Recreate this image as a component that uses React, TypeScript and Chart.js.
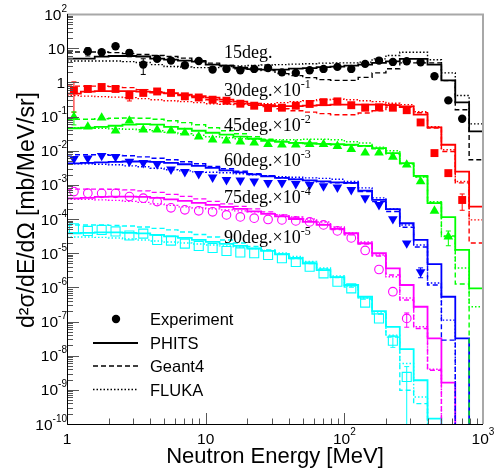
import React, { useEffect, useRef } from "react";
import { Chart, registerables } from "chart.js";

Chart.register(...registerables);

// ---------------- data ----------------
const binEdges = [1, 1.259, 1.585, 1.995, 2.512, 3.162, 3.981, 5.012, 6.31, 7.943, 10, 12.59, 15.85, 19.95, 25.12, 31.62, 39.81, 50.12, 63.1, 79.43, 100, 125.9, 158.5, 199.5, 251.2, 316.2, 398.1, 501.2, 631, 794.3, 1000];
const binCenters = [1.122, 1.413, 1.778, 2.239, 2.818, 3.548, 4.467, 5.623, 7.079, 8.913, 11.22, 14.13, 17.78, 22.39, 28.18, 35.48, 44.67, 56.23, 70.79, 89.13, 112.2, 141.3, 177.8, 223.9, 281.8, 354.8, 446.7, 562.3, 707.9, 891.3];

// 15 deg (x1)
const phits15 = [4.95, 4.95, 5.67, 5.9, 5.9, 5.7, 4.95, 4.6, 4.3, 4.05, 3.3, 3.1, 2.7, 2.44, 2.36, 2.36, 2.52, 2.6, 2.8, 2.9, 3.1, 3.3, 3.7, 4.1, 4.85, 4.85, 3.3, 1.14, 0.26, 0.0365];
const geant15 = [7.7, 7.7, 7.7, 7.4, 6.9, 6.5, 6.1, 5.7, 5.1, 4.3, 3.65, 3.1, 2.5, 2.36, 2.2, 1.8, 1.57, 1.37, 1.2, 1.14, 1.14, 1.4, 1.89, 2.5, 3.7, 3.7, 3.7, 1.12, 0.158, 0.0054];
const fluka15 = [4.2, 4.2, 4.2, 4.2, 4.05, 3.8, 3.3, 2.9, 2.8, 2.7, 2.7, 2.9, 3.0, 3.1, 3.2, 3.3, 3.4, 3.5, 3.65, 3.7, 3.7, 3.9, 4.85, 6.1, 7.6, 7.6, 4.6, 1.89, 0.41, 0.061];
const exp15 = [null, 8.1, 7.6, 11.4, 7.3, 3.3, 4.85, 4.33, 3.15, 4.2, 2.36, 2.47, 2.25, 2.47, 2.64, 1.96, 1.89, 2.25, 2.47, 2.83, 2.47, 3.47, 4.33, 3.96, 4.13, 3.86, 1.5, 0.296, 0.086, null];
const err15 = [0, 2.2, 0, 0, 1.7, 1.6, 0, 0, 0, 0, 0, 0, 0, 0, 0, 0, 0, 0, 0, 0, 0, 0, 0, 0, 0, 0, 0, 0, 0, 0];

// 30 deg (x1e-1, values as plotted)
const phits30 = [0.466, 0.534, 0.553, 0.553, 0.553, 0.534, 0.498, 0.482, 0.436, 0.394, 0.356, 0.31, 0.272, 0.237, 0.214, 0.2, 0.2, 0.207, 0.214, 0.222, 0.222, 0.222, 0.222, 0.214, 0.198, 0.113, 0.0479, 0.0149, 0.00245, 0.000231];
const geant30 = [0.773, 0.773, 0.773, 0.75, 0.7, 0.61, 0.534, 0.466, 0.408, 0.356, 0.31, 0.272, 0.237, 0.214, 0.194, 0.169, 0.148, 0.134, 0.121, 0.113, 0.113, 0.127, 0.148, 0.19, 0.187, 0.129, 0.046, 0.0095, 0.00114, 0.0000199];
const fluka30 = [0.408, 0.394, 0.381, 0.368, 0.356, 0.333, 0.31, 0.29, 0.272, 0.254, 0.237, 0.229, 0.222, 0.222, 0.237, 0.254, 0.272, 0.29, 0.31, 0.321, 0.31, 0.29, 0.272, 0.245, 0.222, 0.138, 0.05, 0.0106, 0.00125, 0.000094];
const exp30 = [0.583, 0.64, 0.73, 0.64, 0.415, 0.49, 0.54, 0.49, 0.39, 0.36, 0.31, 0.29, 0.237, 0.207, 0.178, 0.181, 0.207, 0.233, 0.263, 0.277, 0.214, 0.181, 0.185, 0.181, 0.153, 0.067, 0.0085, 0.0022, 0.00036, null];
const err30 = [0.45, 0, 0, 0, 0.13, 0, 0, 0, 0, 0, 0, 0, 0, 0, 0, 0, 0, 0, 0, 0, 0, 0, 0, 0, 0, 0, 0, 0, 0.00018, 0];

// 45 deg (x1e-2)
const phits45 = [0.0453, 0.0469, 0.05, 0.0537, 0.0575, 0.0595, 0.0575, 0.05, 0.0438, 0.0383, 0.0335, 0.0293, 0.0256, 0.0223, 0.0195, 0.0182, 0.017, 0.0165, 0.0159, 0.0154, 0.0149, 0.0139, 0.0119, 0.0085, 0.00433, 0.00184, 2.9e-4, 1.13e-4, 1.24e-5, 9.36e-7];
const geant45 = [0.0833, 0.0833, 0.086, 0.089, 0.0905, 0.089, 0.0833, 0.075, 0.066, 0.0575, 0.0469, 0.0383, 0.0313, 0.0256, 0.0216, 0.0189, 0.017, 0.0159, 0.0154, 0.0149, 0.0144, 0.0135, 0.0114, 0.0081, 0.00413, 0.00172, 3.03e-4, 3.19e-5, 1.25e-6, 0];
const fluka45 = [0.0469, 0.0469, 0.0453, 0.0438, 0.0424, 0.041, 0.0383, 0.0346, 0.0313, 0.0283, 0.0256, 0.0239, 0.0223, 0.0216, 0.0209, 0.0209, 0.0209, 0.0216, 0.0216, 0.0209, 0.0182, 0.0167, 0.0127, 0.0099, 0.00413, 0.00168, 3.23e-4, 3.05e-5, 3.68e-6, 2.7e-7];
const exp45 = [0.0967, 0.05, 0.092, 0.0383, 0.075, 0.041, 0.041, 0.0383, 0.0335, 0.0256, 0.0209, 0.0195, 0.0182, 0.017, 0.0154, 0.0149, 0.0149, 0.0154, 0.0154, 0.0135, 0.011, 0.00866, 0.00866, 0.0066, 0.00386, 0.00125, 1.73e-4, 3.05e-5, null, null];
const err45 = [0.04, 0, 0, 0, 0, 0, 0, 0, 0, 0, 0, 0, 0, 0, 0, 0, 0, 0, 0, 0, 0, 0, 0, 0, 0, 0, 0, 1.4e-5, 0, 0];

// 60 deg (x1e-3)
const phits60 = [0.00427, 0.00442, 0.00457, 0.00473, 0.00482, 0.00482, 0.00473, 0.00442, 0.004, 0.0036, 0.00315, 0.00266, 0.00233, 0.00203, 0.00178, 0.0016, 0.00145, 0.00135, 0.00127, 0.00118, 0.00114, 6.8e-4, 3.63e-4, 1.94e-4, 7.5e-5, 2.44e-5, 4.8e-6, 5.3e-7, 3.2e-8, 0];
const geant60 = [0.0076, 0.0076, 0.0076, 0.00733, 0.0071, 0.0066, 0.006, 0.0054, 0.00473, 0.00413, 0.00348, 0.00295, 0.00249, 0.0021, 0.00184, 0.0016, 0.00145, 0.00131, 0.00122, 0.00114, 0.0011, 6.35e-4, 3.23e-4, 1.65e-4, 5.75e-5, 1.52e-5, 1.17e-6, 2.85e-8, 0, 0];
const fluka60 = [0.00413, 0.00413, 0.004, 0.00386, 0.0036, 0.00337, 0.00305, 0.00275, 0.00257, 0.0024, 0.00233, 0.00225, 0.0021, 0.00196, 0.00184, 0.00172, 0.00166, 0.0016, 0.00155, 0.00145, 0.00125, 8.17e-4, 4.15e-4, 1.98e-4, 6.7e-5, 1.74e-5, 1.34e-6, 1.1e-7, 0, 0];
const exp60 = [0.0058, 0.006, 0.0071, 0.0066, 0.00482, 0.00442, 0.004, 0.00285, 0.0024, 0.0021, 0.00166, 0.0014, 0.00135, 0.00127, 0.00114, 0.00114, 0.00107, 0.001, 9.16e-4, 8.4e-4, 7.14e-4, 4.08e-4, 2.59e-4, 1.0e-4, 1.95e-5, 2.81e-6, null, null, null, null];
const err60 = [0, 0, 0, 0, 0, 0, 0, 0, 0, 0, 0, 0, 0, 0, 0, 0, 0, 0, 0, 0, 0, 0, 0, 0, 0, 9e-7, 0, 0, 0, 0];

// 75 deg (x1e-4)
const phits75 = [4.02e-4, 4.15e-4, 4.44e-4, 4.53e-4, 4.53e-4, 4.44e-4, 4.15e-4, 3.76e-4, 3.39e-4, 2.96e-4, 2.59e-4, 2.26e-4, 1.98e-4, 1.67e-4, 1.41e-4, 1.19e-4, 1.0e-4, 8.2e-5, 6.7e-5, 5.12e-5, 3.83e-5, 1.95e-5, 9.93e-6, 3.6e-6, 1.17e-6, 2.7e-7, 3.2e-8, 1.62e-9, 0, 0];
const geant75 = [7.5e-4, 7.5e-4, 7.5e-4, 7.4e-4, 7.14e-4, 6.67e-4, 6.0e-4, 5.26e-4, 4.6e-4, 3.89e-4, 3.28e-4, 2.77e-4, 2.34e-4, 1.98e-4, 1.62e-4, 1.32e-4, 1.08e-4, 8.8e-5, 6.9e-5, 4.95e-5, 3.42e-5, 1.86e-5, 8.26e-6, 2.29e-6, 4.24e-7, 6.27e-8, 3.76e-9, 0, 0, 0];
const fluka75 = [3.76e-4, 3.76e-4, 3.63e-4, 3.51e-4, 3.28e-4, 3.07e-4, 2.77e-4, 2.5e-4, 2.26e-4, 2.12e-4, 1.98e-4, 1.85e-4, 1.73e-4, 1.62e-4, 1.46e-4, 1.32e-4, 1.15e-4, 1.0e-4, 8.2e-5, 5.86e-5, 3.91e-5, 2.13e-5, 8.85e-6, 2.04e-6, 4.86e-7, 7.0e-8, 4.02e-9, 0, 0, 0];
const exp75 = [6.35e-4, 5.7e-4, 5.63e-4, 5.63e-4, 4.53e-4, 4.08e-4, 3.23e-4, 2.12e-4, 1.85e-4, 1.73e-4, 1.62e-4, 1.32e-4, 1.15e-4, 1.06e-4, 9.7e-5, 9.4e-5, 8.8e-5, 8.2e-5, 6.7e-5, 4.48e-5, 2.79e-5, 1.2e-5, 3.33e-6, 7.44e-7, 1.23e-7, null, null, null, null, null];
const err75 = [0, 0, 0, 0, 0, 0, 0, 0, 0, 0, 0, 0, 0, 0, 0, 0, 0, 0, 0, 0, 0, 0, 0, 0, 5.5e-8, 0, 0, 0, 0, 0];

// 90 deg (x1e-5)
const phits90 = [3.83e-5, 3.91e-5, 4.05e-5, 4.05e-5, 3.91e-5, 3.78e-5, 3.42e-5, 3.09e-5, 2.79e-5, 2.44e-5, 2.13e-5, 1.86e-5, 1.63e-5, 1.37e-5, 1.16e-5, 9.16e-6, 7.1e-6, 5.06e-6, 3.21e-6, 2.0e-6, 1.17e-6, 5.3e-7, 2.02e-7, 7.0e-8, 1.55e-8, 1.91e-9, 1.44e-10, 0, 0, 0];
const geant90 = [6.7e-5, 6.7e-5, 6.7e-5, 6.49e-5, 6.27e-5, 5.86e-5, 5.3e-5, 4.79e-5, 4.18e-5, 3.53e-5, 2.98e-5, 2.44e-5, 1.99e-5, 1.57e-5, 1.24e-5, 9.45e-6, 7.0e-6, 4.98e-6, 3.21e-6, 1.94e-6, 1.02e-6, 4.53e-7, 1.65e-7, 3.48e-8, 9.7e-10, 3.96e-10, 0, 0, 0, 0];
const fluka90 = [2.98e-5, 2.98e-5, 2.89e-5, 2.79e-5, 2.61e-5, 2.44e-5, 2.28e-5, 2.13e-5, 1.99e-5, 1.86e-5, 1.74e-5, 1.63e-5, 1.52e-5, 1.37e-5, 1.2e-5, 1.01e-5, 8.0e-6, 5.7e-6, 3.68e-6, 2.14e-6, 1.09e-6, 4.86e-7, 1.89e-7, 4.0e-8, 5.9e-9, 6.2e-10, 0, 0, 0, 0];
const exp90 = [5.37e-5, 4.48e-5, 4.79e-5, 4.33e-5, 3.3e-5, 3.73e-5, 2.44e-5, 2.33e-5, 1.9e-5, 1.63e-5, 1.42e-5, 1.16e-5, 1.05e-5, 9.93e-6, 8.85e-6, 7.1e-6, 5.53e-6, 4.02e-6, 2.57e-6, 1.46e-6, 9.36e-7, 3.58e-7, 1.23e-7, 2.75e-8, 2.39e-9, null, null, null, null, null];
const err90 = [0, 0, 0, 0, 0, 0, 0, 0, 0, 0, 0, 0, 0, 0, 0, 0, 0, 0, 0, 0, 0, 0, 0, 1.0e-8, 2.4e-9, 0, 0, 0, 0, 0];

const angleNames = ["15deg.", "30deg.", "45deg.", "60deg.", "75deg.", "90deg."];
const angleScaleSup = ["", "-1", "-2", "-3", "-4", "-5"];
const angleColors = ["#000000", "#ff0000", "#00ff00", "#0000ff", "#ff00ff", "#00ffff"];

const yTickValues = [1e2, 1e1, 1, 1e-1, 1e-2, 1e-3, 1e-4, 1e-5, 1e-6, 1e-7, 1e-8, 1e-9, 1e-10];
const yTickBase = ["10", "10", "1", "10", "10", "10", "10", "10", "10", "10", "10", "10", "10"];
const yTickSup = ["2", "", "", "-1", "-2", "-3", "-4", "-5", "-6", "-7", "-8", "-9", "-10"];
const xTickValues = [1, 10, 100, 1000];
const xTickBase = ["1", "10", "10", "10"];
const xTickSup = ["", "", "2", "3"];

const legendLabels = ["Experiment", "PHITS", "Geant4", "FLUKA"];
const xTitle = "Neutron Energy [MeV]";
const yTitle = "d\u00b2\u03c3/dE/d\u03a9 [mb/MeV/sr]";

// ---------------- styling ----------------
const SANS = '"Liberation Sans", Arial, Helvetica, sans-serif';
const SERIF = '"Liberation Serif", "Times New Roman", Times, serif';
const FLOOR = 1e-14;
const markerStyles = ["circle", "rect", "triangle", "triangle", "circle", "rect"];
const markerRot = [0, 0, 0, 180, 0, 0];
const markerRadius = [4.2, 5.6, 5.6, 5.6, 4.3, 6.4];
const markerFilled = [true, true, true, true, false, false];
const GEANT_DASH = [5, 3];
const FLUKA_DASH = [1.5, 2];

const phitsSets = [phits15, phits30, phits45, phits60, phits75, phits90];
const geantSets = [geant15, geant30, geant45, geant60, geant75, geant90];
const flukaSets = [fluka15, fluka30, fluka45, fluka60, fluka75, fluka90];
const expSets = [exp15, exp30, exp45, exp60, exp75, exp90];
const errSets = [err15, err30, err45, err60, err75, err90];

function histPoints(vals: number[]) {
  return binEdges.map((e, i) => {
    const v = vals[Math.min(i, vals.length - 1)];
    return { x: e, y: v > 0 ? v : FLOOR };
  });
}

function expPoints(vals: (number | null)[]) {
  const pts: { x: number; y: number }[] = [];
  vals.forEach((v, i) => {
    if (v != null) pts.push({ x: binCenters[i], y: v });
  });
  return pts;
}

function drawSup(ctx: CanvasRenderingContext2D, base: string, sup: string, x: number, y: number, align: string, baseSize: number, supSize: number, raise: number) {
  ctx.font = `${baseSize}px ${SANS}`;
  const bw = ctx.measureText(base).width;
  ctx.font = `${supSize}px ${SANS}`;
  const sw = sup ? ctx.measureText(sup).width : 0;
  let x0 = x;
  if (align === "right") x0 = x - bw - sw;
  else if (align === "center") x0 = x - (bw + sw) / 2;
  ctx.textAlign = "left";
  ctx.textBaseline = "alphabetic";
  ctx.font = `${baseSize}px ${SANS}`;
  ctx.fillText(base, x0, y);
  if (sup) {
    ctx.font = `${supSize}px ${SANS}`;
    ctx.fillText(sup, x0 + bw, y - raise);
  }
}

const decorPlugin = {
  id: "decor",
  beforeDatasetsDraw(chart: any) {
    const { ctx, chartArea: a, scales } = chart;
    ctx.save();
    ctx.beginPath();
    ctx.rect(a.left, a.top, a.right - a.left, a.bottom - a.top);
    ctx.clip();
    expSets.forEach((vals, s) => {
      ctx.strokeStyle = angleColors[s];
      ctx.lineWidth = 1;
      vals.forEach((v, i) => {
        const e = errSets[s][i];
        if (v == null || !e) return;
        const x = scales.x.getPixelForValue(binCenters[i]);
        const yt = scales.y.getPixelForValue(v + e);
        const low = v - e;
        const yb = low > 0 ? scales.y.getPixelForValue(low) : a.bottom;
        ctx.beginPath();
        ctx.moveTo(x, yt);
        ctx.lineTo(x, yb);
        ctx.moveTo(x - 2.5, yt);
        ctx.lineTo(x + 2.5, yt);
        if (low > 0) {
          ctx.moveTo(x - 2.5, yb);
          ctx.lineTo(x + 2.5, yb);
        }
        ctx.stroke();
      });
    });
    ctx.restore();
  },
  afterDraw(chart: any) {
    const { ctx, chartArea: a, scales } = chart;
    const xs = scales.x;
    const ys = scales.y;
    ctx.save();

    // ticks
    ctx.strokeStyle = "#555";
    ctx.lineWidth = 1;
    ctx.beginPath();
    for (let k = -10; k <= 2; k++) {
      for (let m = 1; m <= 9; m++) {
        const v = m * Math.pow(10, k);
        if (v > 100.0001) break;
        const y = Math.round(ys.getPixelForValue(v)) + 0.5;
        const len = m === 1 ? 12 : 6;
        ctx.moveTo(a.left, y);
        ctx.lineTo(a.left + len, y);
      }
    }
    for (let k = 0; k <= 3; k++) {
      for (let m = 1; m <= 9; m++) {
        const v = m * Math.pow(10, k);
        if (v > 1000.0001) break;
        const x = Math.round(xs.getPixelForValue(v)) + 0.5;
        const len = m === 1 ? 11 : 5.5;
        ctx.moveTo(x, a.bottom);
        ctx.lineTo(x, a.bottom - len);
      }
    }
    ctx.stroke();

    // frame
    ctx.strokeStyle = "#a8a8a8";
    ctx.lineWidth = 2;
    ctx.beginPath();
    ctx.moveTo(a.left, a.top + 0.5);
    ctx.lineTo(a.right, a.top + 0.5);
    ctx.lineTo(a.right, a.bottom);
    ctx.stroke();
    ctx.strokeStyle = "#000";
    ctx.lineWidth = 1;
    ctx.beginPath();
    ctx.moveTo(a.left + 0.5, a.top);
    ctx.lineTo(a.left + 0.5, a.bottom + 0.5);
    ctx.lineTo(a.right, a.bottom + 0.5);
    ctx.stroke();

    // tick labels
    ctx.fillStyle = "#000";
    yTickValues.forEach((v, i) => {
      const y = ys.getPixelForValue(v);
      const right = yTickSup[i] ? a.left : a.left - 2;
      drawSup(ctx, yTickBase[i], yTickSup[i], right, y + 5.6, "right", 15.5, 10, 8);
    });
    xTickValues.forEach((v, i) => {
      const x = xs.getPixelForValue(v);
      drawSup(ctx, xTickBase[i], xTickSup[i], x, 443.5, "center", 15.5, 10, 9);
    });

    // axis titles
    ctx.font = `22px ${SANS}`;
    ctx.textAlign = "center";
    ctx.textBaseline = "alphabetic";
    ctx.fillText(xTitle, (a.left + a.right) / 2, 463);
    ctx.save();
    ctx.translate(34, 210);
    ctx.rotate(-Math.PI / 2);
    ctx.font = `23px ${SANS}`;
    ctx.fillText(yTitle, 0, 0);
    ctx.restore();

    // angle labels
    const baselines = [58, 96, 131, 166, 203, 243];
    angleNames.forEach((name, i) => {
      const x0 = 224;
      const y0 = baselines[i];
      ctx.textAlign = "left";
      ctx.font = `18px ${SERIF}`;
      const main = angleScaleSup[i] ? name + "\u00d710" : name;
      ctx.fillText(main, x0, y0);
      if (angleScaleSup[i]) {
        const w = ctx.measureText(main).width;
        ctx.font = `12px ${SERIF}`;
        ctx.fillText(angleScaleSup[i], x0 + w, y0 - 8);
      }
    });

    // legend
    const lx0 = 93, lx1 = 138, tx = 150;
    const ly = [319, 343, 366, 389.5];
    ctx.fillStyle = "#000";
    ctx.beginPath();
    ctx.arc(116, ly[0], 4.2, 0, Math.PI * 2);
    ctx.fill();
    ctx.strokeStyle = "#000";
    ctx.lineWidth = 2;
    ctx.setLineDash([]);
    ctx.beginPath();
    ctx.moveTo(lx0, ly[1]);
    ctx.lineTo(lx1, ly[1]);
    ctx.stroke();
    ctx.lineWidth = 1.4;
    ctx.setLineDash(GEANT_DASH);
    ctx.beginPath();
    ctx.moveTo(lx0, ly[2]);
    ctx.lineTo(lx1, ly[2]);
    ctx.stroke();
    ctx.setLineDash(FLUKA_DASH);
    ctx.beginPath();
    ctx.moveTo(lx0, ly[3]);
    ctx.lineTo(lx1, ly[3]);
    ctx.stroke();
    ctx.setLineDash([]);
    ctx.font = `16.5px ${SANS}`;
    ctx.textAlign = "left";
    legendLabels.forEach((t, i) => {
      ctx.fillText(t, tx, ly[i] + 6);
    });

    ctx.restore();
  },
};

export default function App() {
  const ref = useRef<HTMLCanvasElement | null>(null);
  useEffect(() => {
    if (!ref.current) return;
    const datasets: any[] = [];
    angleColors.forEach((c, s) => {
      datasets.push({
        data: expPoints(expSets[s]),
        showLine: false,
        pointStyle: markerStyles[s],
        pointRotation: markerRot[s],
        pointRadius: markerRadius[s],
        pointBackgroundColor: markerFilled[s] ? c : "rgba(0,0,0,0)",
        pointBorderColor: c,
        pointBorderWidth: markerFilled[s] ? 0 : 1.1,
        order: 0,
      });
      datasets.push({
        data: histPoints(phitsSets[s]),
        stepped: true,
        borderColor: c,
        borderWidth: 1.8,
        pointRadius: 0,
        fill: false,
        order: 1,
      });
      datasets.push({
        data: histPoints(geantSets[s]),
        stepped: true,
        borderColor: c,
        borderWidth: 1.4,
        borderDash: GEANT_DASH,
        pointRadius: 0,
        fill: false,
        order: 1,
      });
      datasets.push({
        data: histPoints(flukaSets[s]),
        stepped: true,
        borderColor: c,
        borderWidth: 1.4,
        borderDash: FLUKA_DASH,
        pointRadius: 0,
        fill: false,
        order: 1,
      });
    });
    const chart = new Chart(ref.current, {
      type: "line",
      data: { datasets },
      options: {
        animation: false,
        responsive: false,
        events: [],
        layout: { padding: { left: 67, right: 16, top: 14, bottom: 48 } },
        scales: {
          x: { type: "logarithmic", min: 1, max: 1000, display: false },
          y: { type: "logarithmic", min: 1e-10, max: 100, display: false },
        },
        plugins: { legend: { display: false }, tooltip: { enabled: false } },
      },
      plugins: [decorPlugin],
    } as any);
    return () => chart.destroy();
  }, []);
  return (
    <div style={{ position: "absolute", left: 0, top: 0, width: 499, height: 472, background: "#fff" }}>
      <canvas ref={ref} width={499} height={472} />
    </div>
  );
}
